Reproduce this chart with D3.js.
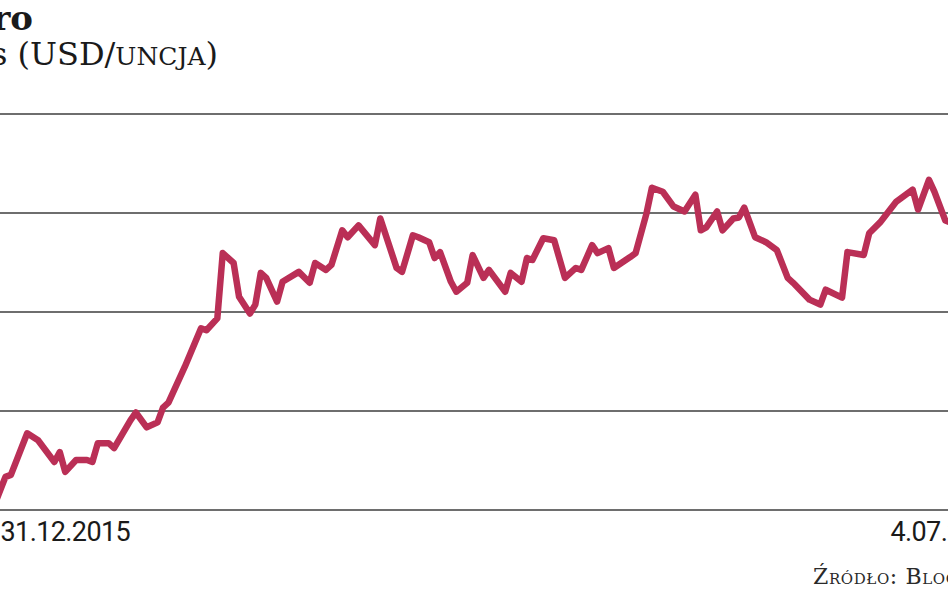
<!DOCTYPE html>
<html lang="pl">
<head>
<meta charset="utf-8">
<script src="https://cdn.jsdelivr.net/npm/d3@7"></script>
<style>
  html, body { margin: 0; padding: 0; background: #ffffff; overflow: hidden; }
  svg { display: block; }
</style>
</head>
<body>
<svg id="chart" width="948" height="593"></svg>
<script>
// ---- data ----
const title = "Srebro";
const subtitleMain = "Kurs (USD/";
const subtitleUnit = "uncja";
const source = "Źródło: Bloomberg";

const dates = [
  "2015-12-31","2016-01-02","2016-01-03","2016-01-06","2016-01-08","2016-01-11","2016-01-12","2016-01-13",
  "2016-01-15","2016-01-17","2016-01-18","2016-01-19","2016-01-21","2016-01-22","2016-01-25","2016-01-26",
  "2016-01-28","2016-01-30","2016-01-31","2016-02-01","2016-02-04","2016-02-07","2016-02-08","2016-02-10",
  "2016-02-11","2016-02-13","2016-02-14","2016-02-16","2016-02-17","2016-02-18","2016-02-19","2016-02-21",
  "2016-02-22","2016-02-25","2016-02-27","2016-02-28","2016-03-01","2016-03-02","2016-03-04","2016-03-05",
  "2016-03-07","2016-03-10","2016-03-11","2016-03-14","2016-03-15","2016-03-17","2016-03-18","2016-03-20",
  "2016-03-21","2016-03-22","2016-03-24","2016-03-25","2016-03-27","2016-03-28","2016-03-30","2016-03-31",
  "2016-04-03","2016-04-04","2016-04-06","2016-04-07","2016-04-08","2016-04-10","2016-04-12","2016-04-14",
  "2016-04-16","2016-04-17","2016-04-19","2016-04-20","2016-04-22","2016-04-23","2016-04-26","2016-04-27",
  "2016-04-29","2016-04-30","2016-05-02","2016-05-04","2016-05-06","2016-05-08","2016-05-09","2016-05-10",
  "2016-05-12","2016-05-13","2016-05-15","2016-05-16","2016-05-17","2016-05-19","2016-05-21","2016-05-23",
  "2016-05-25","2016-05-26","2016-05-29","2016-05-31","2016-06-01","2016-06-04","2016-06-05","2016-06-08",
  "2016-06-09","2016-06-11","2016-06-12","2016-06-14","2016-06-15","2016-06-17","2016-06-18","2016-06-20",
  "2016-06-21","2016-06-23","2016-06-24"
];
const prices = [
  14.05,14.33,14.35,14.77,14.70,14.48,14.58,14.38,
  14.50,14.50,14.48,14.67,14.67,14.62,14.90,14.98,
  14.83,14.88,15.03,15.08,15.44,15.83,15.81,15.93,
  16.59,16.49,16.15,15.98,16.07,16.39,16.34,16.10,
  16.30,16.40,16.29,16.49,16.42,16.47,16.82,16.75,
  16.87,16.67,16.94,16.44,16.40,16.77,16.75,16.70,
  16.54,16.60,16.30,16.20,16.29,16.57,16.34,16.42,
  16.20,16.39,16.30,16.54,16.52,16.74,16.72,16.34,
  16.44,16.42,16.67,16.59,16.64,16.44,16.55,16.59,
  16.99,17.25,17.21,17.06,17.01,17.18,16.82,16.85,
  17.01,16.82,16.94,16.95,17.05,16.75,16.70,16.62,
  16.34,16.29,16.12,16.07,16.22,16.14,16.60,16.57,
  16.79,16.90,16.97,17.11,17.15,17.23,17.03,17.33,
  17.21,16.92,16.90
];
const yTicks = [14, 15, 16, 17, 18];
const xTickDates = ["2015-12-31", "2016-07-04"];
const xTickLabels = ["31.12.2015", "4.07.2016"];

// ---- drawing ----
const parse = d3.timeParse("%Y-%m-%d");
const data = dates.map((d, i) => ({ date: parse(d), value: prices[i] }));

const svg = d3.select("#chart");

const x = d3.scaleTime()
  .domain([parse(xTickDates[0]), parse(xTickDates[1])])
  .range([-5.4, 1005]);
const y = d3.scaleLinear()
  .domain([14, 18])
  .range([509.5, 113.5]);

// horizontal gridlines
const grid = svg.append("g")
  .attr("transform", "translate(-20,0)")
  .call(d3.axisLeft(y).tickValues(yTicks).tickSize(-1060).tickFormat(""));
grid.select(".domain").remove();
grid.selectAll(".tick line").attr("stroke", "#6e6e6e").attr("stroke-width", 2);

// x axis labels
const xa = svg.append("g")
  .attr("transform", "translate(0,509.5)")
  .call(d3.axisBottom(x)
    .tickValues(xTickDates.map(parse))
    .tickSize(0)
    .tickPadding(0)
    .tickFormat((d, i) => xTickLabels[i]));
xa.select(".domain").remove();
xa.selectAll(".tick text")
  .attr("y", 31)
  .attr("dy", 0)
  .attr("font-family", "Roboto, 'DejaVu Sans', sans-serif")
  .attr("font-size", 27)
  .attr("letter-spacing", "-0.6")
  .attr("fill", "#1a1a1a")
  .attr("text-anchor", (d, i) => i === 0 ? "start" : "end")
  .attr("dx", (d, i) => i === 0 ? 5.4 : 0);

// price line
const line = d3.line()
  .x(d => x(d.date))
  .y(d => y(d.value));
svg.append("path")
  .datum(data)
  .attr("d", line)
  .attr("fill", "none")
  .attr("stroke", "#ba2f56")
  .attr("stroke-width", 6.5)
  .attr("stroke-linejoin", "round")
  .attr("stroke-linecap", "round");

// title & subtitle
svg.append("text")
  .attr("x", 33).attr("y", 30)
  .attr("text-anchor", "end")
  .attr("font-family", "'DejaVu Serif', serif")
  .attr("font-weight", "bold")
  .attr("font-size", 34)
  .attr("fill", "#1a1a1a")
  .text(title);

const sub = svg.append("text")
  .attr("x", 218).attr("y", 65)
  .attr("text-anchor", "end")
  .attr("font-family", "'DejaVu Serif', serif")
  .attr("font-size", 32)
  .attr("fill", "#1a1a1a");
sub.append("tspan").text(subtitleMain);
sub.append("tspan").style("font-variant", "small-caps").attr("font-size", 35).text(subtitleUnit);
sub.append("tspan").text(")");

// source
svg.append("text")
  .attr("x", 813).attr("y", 584)
  .attr("font-family", "'DejaVu Serif', serif")
  .attr("font-size", 22)
  .attr("letter-spacing", "0.6")
  .style("font-variant", "small-caps")
  .attr("fill", "#2a2a2a")
  .text(source);
</script>
</body>
</html>
